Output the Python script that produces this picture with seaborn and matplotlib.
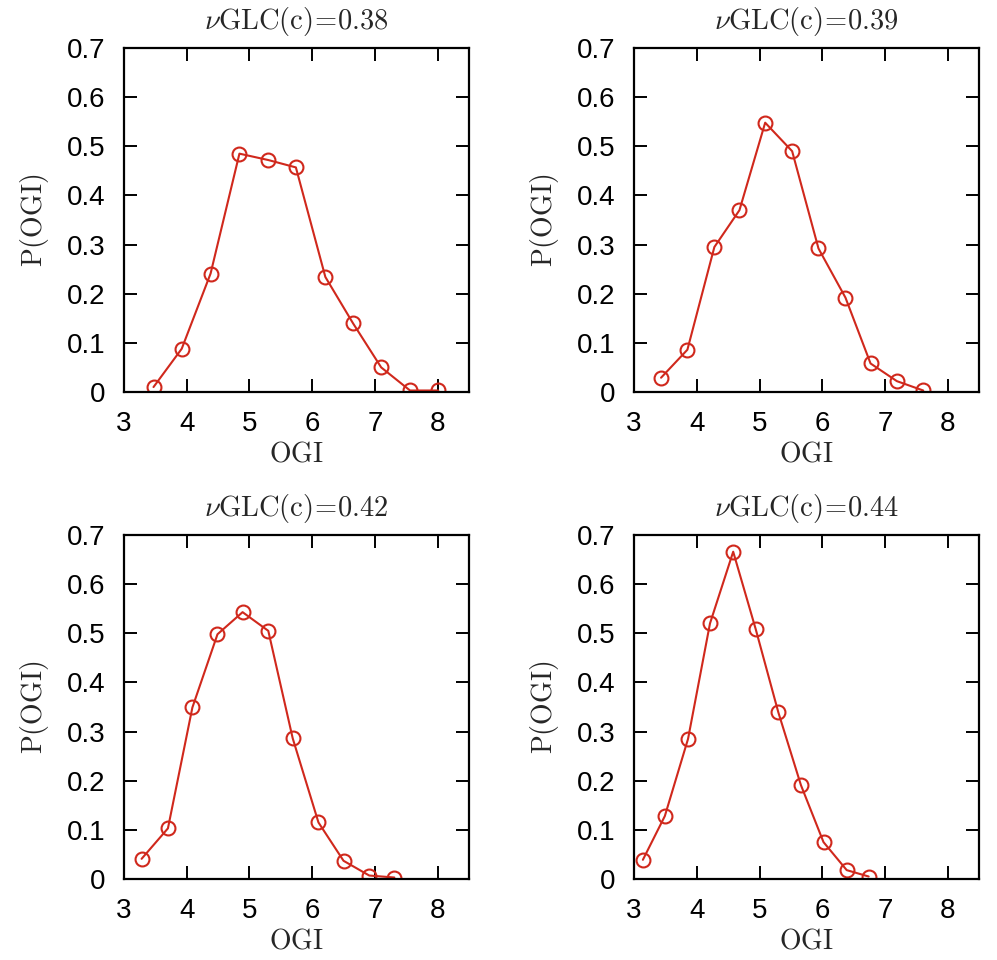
import numpy as np
import pandas as pd
import matplotlib
matplotlib.use('Agg')
import matplotlib.pyplot as plt
import seaborn as sns

# Data, one curve per vGLC(c) value

glc_values = ['0.38', '0.39', '0.42', '0.44']

ogi_038 = [3.47, 3.92, 4.38, 4.84, 5.30, 5.74, 6.21, 6.65, 7.10, 7.56, 8.01]
p_038 = [0.010, 0.088, 0.241, 0.485, 0.472, 0.457, 0.234, 0.140, 0.050, 0.003, 0.003]

ogi_039 = [3.43, 3.85, 4.28, 4.68, 5.09, 5.52, 5.94, 6.37, 6.77, 7.19, 7.61]
p_039 = [0.029, 0.086, 0.295, 0.370, 0.548, 0.490, 0.292, 0.192, 0.058, 0.022, 0.003]

ogi_042 = [3.28, 3.70, 4.09, 4.49, 4.89, 5.30, 5.69, 6.10, 6.50, 6.91, 7.31]
p_042 = [0.041, 0.103, 0.349, 0.498, 0.543, 0.505, 0.286, 0.115, 0.037, 0.007, 0.003]

ogi_044 = [3.14, 3.49, 3.86, 4.21, 4.58, 4.94, 5.30, 5.66, 6.02, 6.39, 6.74]
p_044 = [0.039, 0.128, 0.285, 0.520, 0.666, 0.508, 0.339, 0.191, 0.075, 0.018, 0.005]

x_ticks = [3, 4, 5, 6, 7, 8]
y_ticks = [0, 0.1, 0.2, 0.3, 0.4, 0.5, 0.6, 0.7]
y_ticklabels = ['0', '0.1', '0.2', '0.3', '0.4', '0.5', '0.6', '0.7']

panels = [
    (ogi_038, p_038, glc_values[0]),
    (ogi_039, p_039, glc_values[1]),
    (ogi_042, p_042, glc_values[2]),
    (ogi_044, p_044, glc_values[3]),
]

# Style

sns.set_style('ticks')
plt.rcParams['font.family'] = ['Liberation Sans', 'DejaVu Sans']
plt.rcParams['mathtext.fontset'] = 'cm'
plt.rcParams['axes.linewidth'] = 1.5

red = '#d0281c'

fig = plt.figure(figsize=(9.97, 9.6), dpi=100)

# axes boxes in figure fraction: left, bottom, width, height
boxes = [
    [0.1244, 0.5917, 0.346, 0.3583],
    [0.6360, 0.5917, 0.346, 0.3583],
    [0.1244, 0.0844, 0.346, 0.3583],
    [0.6360, 0.0844, 0.346, 0.3583],
]

for box, (xs, ys, glc) in zip(boxes, panels):
    ax = fig.add_axes(box)
    df = pd.DataFrame({'OGI': xs, 'P': ys})
    sns.lineplot(data=df, x='OGI', y='P', ax=ax, color=red, linewidth=1.5,
                 marker='o', markersize=10, markerfacecolor='none',
                 markeredgecolor=red, markeredgewidth=1.5)
    ax.set_xlim(3, 8.5)
    ax.set_ylim(0, 0.7)
    ax.set_xticks(x_ticks)
    ax.set_yticks(y_ticks)
    ax.set_yticklabels(y_ticklabels)
    ax.tick_params(axis='both', direction='in', length=9.5, width=1.4,
                   top=True, right=True, labelsize=20, colors='black')
    ax.tick_params(axis='x', pad=14)
    ax.tick_params(axis='y', pad=13.5)
    for s in ax.spines.values():
        s.set_visible(True)
        s.set_linewidth(1.6)
        s.set_color('black')
    ax.set_xlabel(r'$\mathrm{OGI}$', fontsize=20, labelpad=3)
    ax.set_ylabel(r'$\mathrm{P(OGI)}$', fontsize=20, labelpad=11)
    ax.set_title(r'$\nu\mathrm{GLC(c)}\!=\!' + glc + '$', fontsize=20.5, pad=14)

plt.savefig('out.png', dpi=100)
